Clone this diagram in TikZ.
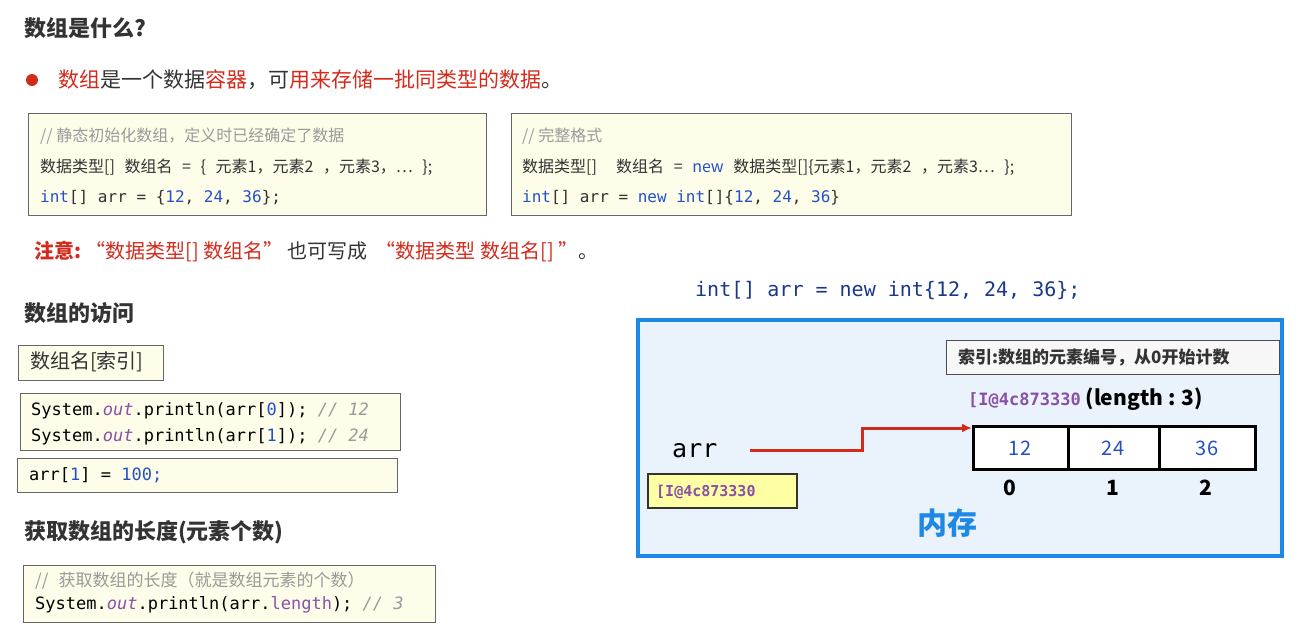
\documentclass[tikz,border=0pt]{standalone}
\usetikzlibrary{arrows.meta}
\usepackage{fontspec}
\setmainfont{Noto Sans CJK SC}
\newfontfamily\cjk{Noto Sans CJK SC}
\setmonofont{DejaVu Sans Mono}
\newcommand{\fs}[1]{\fontsize{#1}{#1}\selectfont}
\newcommand{\gap}{\hspace{0.6em}}
\definecolor{codebg}{HTML}{FDFDE9}
\definecolor{kw}{HTML}{2450C8}
\definecolor{rd}{HTML}{D42A1C}
\definecolor{pu}{HTML}{8A4FA8}
\definecolor{cm}{HTML}{9A9A9A}
\definecolor{memb}{HTML}{1E88E5}
\definecolor{memf}{HTML}{EAF3FB}
\definecolor{tx}{HTML}{333333}
\begin{document}
\begin{tikzpicture}[x=1pt,y=-1pt,
  code/.style={draw=black!60,fill=codebg,line width=1pt},
  t/.style={anchor=west,inner sep=0,text=tx},
  head/.style={t,font=\fs{22}\bfseries},
  cell/.style={draw=black,line width=3pt,fill=white}]
\useasboundingbox (0,0) rectangle (1299,635);
\node[head] (h1) at (24,28) {数组是什么?};
\fill[rd] (32,80) circle (6);
\node[t,font=\fs{21}] (b1) at (58,80) {\textcolor{rd}{数组}是一个数据\textcolor{rd}{容器}，可\textcolor{rd}{用来存储一批同类型的数据}。};
% box1
\draw[code] (28,113) rectangle (486,215);
\node[t,font=\fs{16}\itshape,text=cm] (c1) at (40,136) {// 静态初始化数组，定义时已经确定了数据};
\node[t,font=\fs{16}] (c2) at (40,167) {数据类型[]\gap 数组名\gap =\gap \{\gap 元素1，元素2\gap ，元素3，…\gap \};};
\node[t,font=\fs{16}\ttfamily] (c3) at (40,198) {\textcolor{kw}{int}[] arr = \{\textcolor{kw}{12}, \textcolor{kw}{24}, \textcolor{kw}{36}\};};
% box2
\draw[code] (511,113) rectangle (1071,215);
\node[t,font=\fs{16}\itshape,text=cm] (d1) at (522,136) {// 完整格式};
\node[t,font=\fs{16}] (d2) at (522,167) {数据类型[]\gap\gap 数组名\gap =\gap \textcolor{kw}{new}\gap 数据类型[]\{元素1，元素2\gap ，元素3…\gap \};};
\node[t,font=\fs{16}\ttfamily] (d3) at (522,198) {\textcolor{kw}{int}[] arr = \textcolor{kw}{new} \textcolor{kw}{int}[]\{\textcolor{kw}{12}, \textcolor{kw}{24}, \textcolor{kw}{36}\}};
\node[t,font=\fs{20}] (n1) at (34,252) {\textcolor{rd}{\bfseries 注意:}\ \textcolor{rd}{“数据类型[] 数组名”}\,也可写成\ \ \textcolor{rd}{“数据类型 数组名[] ”}。};
\node[t,font=\fs{20}\ttfamily,text=kw!70!black] (m0) at (695,291) {int[] arr = new int\{12, 24, 36\};};
% access
\node[head] (h2) at (24,313) {数组的访问};
\draw[code] (18,345) rectangle (163,380);
\node[t,font=\fs{20}] (a0) at (30,362) {数组名[索引]};
\draw[code] (20,393) rectangle (400,450);
\node[t,font=\fs{17}\ttfamily,text=black] (a1) at (31,411) {System.\textcolor{pu}{\itshape out}.println(arr[\textcolor{kw}{0}]); \textcolor{cm}{\itshape // 12}};
\node[t,font=\fs{17}\ttfamily,text=black] (a2) at (31,437) {System.\textcolor{pu}{\itshape out}.println(arr[\textcolor{kw}{1}]); \textcolor{cm}{\itshape // 24}};
\draw[code] (17,458) rectangle (397,492);
\node[t,font=\fs{17}\ttfamily,text=black] (a3) at (29,475) {arr[\textcolor{kw}{1}] = \textcolor{kw}{100;}};
\node[head] (h3) at (24,532) {获取数组的长度(元素个数)};
\draw[code] (23,565) rectangle (435,622);
\node[t,font=\fs{17}\itshape,text=cm] (l1) at (35,581) {//\gap 获取数组的长度（就是数组元素的个数）};
\node[t,font=\fs{17}\ttfamily,text=black] (l2) at (35,605) {System.\textcolor{pu}{\itshape out}.println(arr.\textcolor{pu}{length}); \textcolor{cm}{\itshape // 3}};
% memory
\draw[draw=memb,fill=memf,line width=3.5pt] (638,320) rectangle (1282,556);
\draw[draw=black!70,fill=black!3,line width=1pt] (946,340) rectangle (1279,374);
\node[t,font=\fs{17}\bfseries] (ix) at (958,357) {索引:数组的元素编号，从0开始计数};
\node[t,font=\fs{21}\bfseries,text=black] (ln) at (968,399) {\textcolor{pu}{\ttfamily\fs{17}[I@4c873330} (length : 3)};
\draw[cell] (973,426) rectangle (1068,469);
\draw[cell] (1068,426) rectangle (1159,469);
\draw[cell] (1159,426) rectangle (1255,469);
\node[font=\fs{20},text=kw] (e0) at (1020,448) {12};
\node[font=\fs{20},text=kw] (e1) at (1113,448) {24};
\node[font=\fs{20},text=kw] (e2) at (1207,448) {36};
\coordinate (arrtip) at (972,428);
\node[font=\fs{21}\bfseries] (i0) at (1010,488) {0};
\node[font=\fs{21}\bfseries] (i1) at (1113,488) {1};
\node[font=\fs{21}\bfseries] (i2) at (1206,488) {2};
\node[t,font=\fs{25}\ttfamily,text=black] (arr) at (672,451) {arr};
\coordinate (as) at (750,450);
\draw[rd,line width=3pt,-{Latex[length=10pt,width=9pt]}] (as) -- (862,450) -- (862,428) -- (arrtip);
\draw[draw=black!80,fill=codebg!70!yellow,line width=1.2pt] (648,474) rectangle (797,508);
\node[t,font=\fs{15}\ttfamily\bfseries,text=pu] (ad) at (656,492) {[I@4c873330};
\node[font=\fs{30}\bfseries,text=memb] (mem) at (947,523) {内存};
\end{tikzpicture}
\end{document}
